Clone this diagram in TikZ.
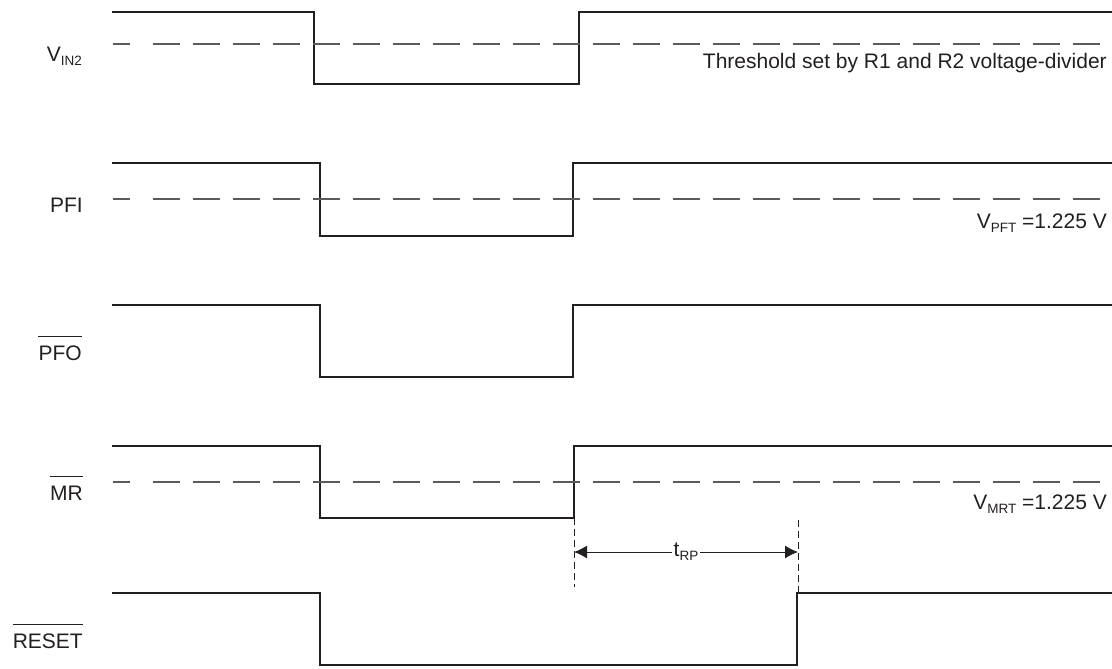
\documentclass[tikz,border=0pt]{standalone}
\usepackage{fontspec}
\setmainfont{Liberation Sans}
\usetikzlibrary{arrows.meta}
\definecolor{ink}{HTML}{231F20}
\definecolor{thrgray}{HTML}{5A5A5A}
\newcommand\sbx[1]{\raisebox{-4pt}{\fontsize{13.5}{13.5}\selectfont #1}}
\begin{document}
\begin{tikzpicture}[x=1pt,y=-1pt,
  sig/.style={draw=ink, line width=2.6pt, line join=miter},
  thr/.style={draw=thrgray, line width=1.8pt, dash pattern=on 27pt off 13pt},
  lbl/.style={text=ink, font=\fontsize{21}{25}\selectfont, inner sep=0pt},
  guide/.style={draw=ink, line width=0.9pt, dash pattern=on 7pt off 4pt},
  dim/.style={draw=ink, line width=1pt, {Latex[length=13pt,width=13pt]}-{Latex[length=13pt,width=13pt]}},
  bar/.style={draw=ink, line width=1.2pt}]
\useasboundingbox (0,0) rectangle (1112,669);

% signals
\draw[sig] (112,12) -- (314,12) -- (314,84) -- (579,84) -- (579,12) -- (1114,12);
\draw[sig] (112,163) -- (320,163) -- (320,236) -- (573,236) -- (573,163) -- (1114,163);
\draw[sig] (112,305) -- (320,305) -- (320,377) -- (573,377) -- (573,305) -- (1114,305);
\draw[sig] (112,446) -- (320,446) -- (320,518) -- (574,518) -- (574,446) -- (1114,446);
\draw[sig] (112,593) -- (320,593) -- (320,665) -- (797,665) -- (797,593) -- (1114,593);

% thresholds
\draw[thr] (113,44) -- (130,44) (153,44) -- (1100,44);
\draw[thr] (113,199) -- (130,199) (153,199) -- (1100,199);
\draw[thr] (113,482) -- (130,482) (153,482) -- (1100,482);

% left labels
\node[lbl, anchor=base east] (vin) at (82,62) {V\sbx{IN2}};
\node[lbl, anchor=base east] (pfi) at (83,212) {PFI};
\node[lbl, anchor=base east] (pfo) at (82,360) {PFO};
\node[lbl, anchor=base east] (mr) at (83,500) {MR};
\node[lbl, anchor=base east] (rst) at (83,648) {RESET};
\draw[bar] ([yshift=8.5pt]pfo.north west) -- ([yshift=8.5pt]pfo.north east);
\draw[bar] ([yshift=8.5pt]mr.north west) -- ([yshift=8.5pt]mr.north east);
\draw[bar] ([yshift=8.5pt]rst.north west) -- ([yshift=8.5pt]rst.north east);

% right labels
\node[lbl, anchor=base east] (thrtxt) at (1107,69) {Threshold set by R1 and R2 voltage-divider};
\node[lbl, anchor=base east] (vpft) at (1107,228) {V\sbx{PFT} =1.225 V};
\node[lbl, anchor=base east] (vmrt) at (1107,509) {V\sbx{MRT} =1.225 V};

% tRP dimension
\coordinate (g1a) at (574,518); \coordinate (g1b) at (574,587);
\coordinate (g2a) at (798,520); \coordinate (g2b) at (798,592);
\coordinate (tl) at (574,552); \coordinate (tr) at (798,552);
\draw[guide] (g1a) -- (g1b);
\draw[guide] (g2a) -- (g2b);
\draw[dim] (tl) -- (tr);
\node[lbl, fill=white, anchor=base, inner xsep=1.5pt] (trp) at (686,556) {t\sbx{RP}};
\end{tikzpicture}
\end{document}
